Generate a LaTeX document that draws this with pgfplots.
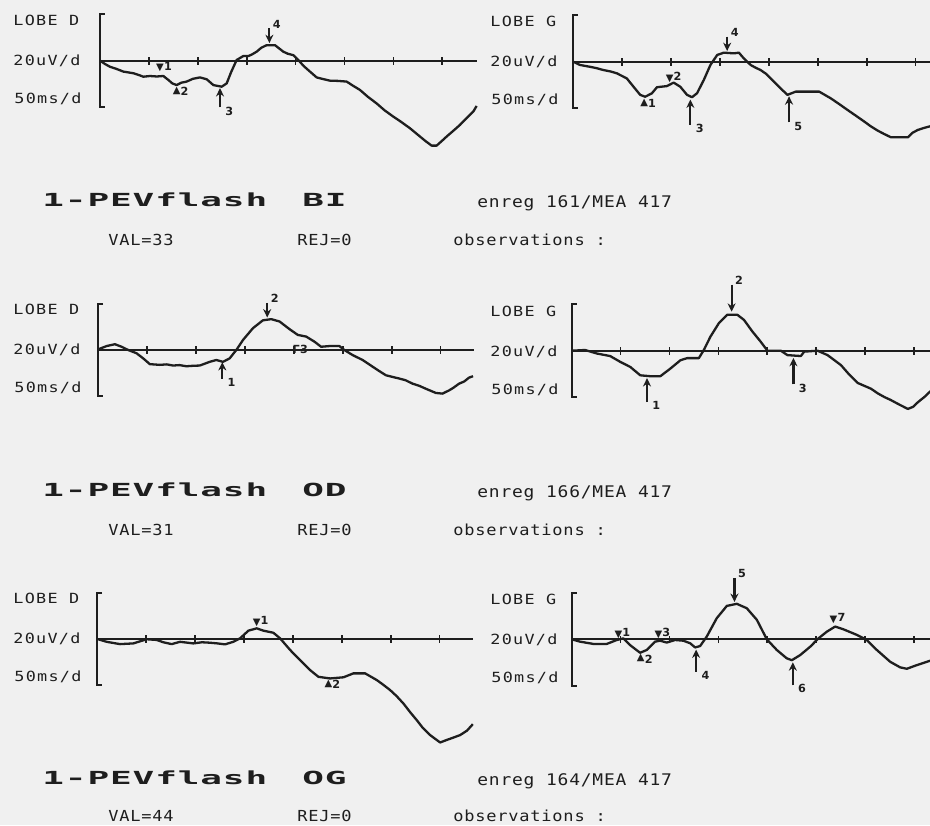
\documentclass[border=0pt]{standalone}
\usepackage{fontspec}
\usepackage{pgfplots}
\pgfplotsset{compat=1.18}
\usetikzlibrary{arrows.meta}
\setmainfont{DejaVu Sans}
\newfontfamily\plab[FakeStretch=1.2,LetterSpace=9]{DejaVu Sans Mono}
\newfontfamily\rlab[FakeStretch=1.12,LetterSpace=5]{DejaVu Sans Mono}
\newfontfamily\ttl[FakeStretch=2.0,LetterSpace=5]{DejaVu Sans Mono Bold}
\newfontfamily\dv{DejaVu Sans}
\definecolor{ink}{HTML}{1E1E1E}
\definecolor{paper}{HTML}{F0F0F0}
\tikzset{
  mk/.style={font=\dv\fontsize{5}{5}\selectfont, inner sep=0pt, text=ink},
  dig/.style={font=\dv\bfseries\fontsize{5.6}{6}\selectfont, inner sep=0pt, text=ink},
  arr/.style={draw=ink, line width=1.1pt, -{Stealth[length=4.2pt,width=4pt]}},
}
\pgfplotsset{
  ev/.style={anchor=south west, scale only axis, x=0.489pt, y=1.16pt,
    ymin=-20, ymax=20, xmin=0, clip=false,
    axis x line=middle, axis y line=none,
    axis line style={-, draw=ink, line width=0.95pt},
    xtick={50,100,...,350}, xticklabels={}, ytick=\empty,
    tick align=center, major tick length=3.8pt,
    tick style={draw=ink, line width=0.85pt}},
  wave/.style={draw=ink, line width=1.15pt, line join=round, mark=none},
}
\newcommand\brk{\draw[ink, line width=0.95pt] (axis cs:5,20) -- (axis cs:0,20) -- (axis cs:0,-20) -- (axis cs:5,-20);}
\newcommand\uarr[4]{\draw[arr] (axis cs:#1,#2) -- (axis cs:#1,#3);
  \node[dig, anchor=north west] at ([xshift=2.5pt,yshift=0.5pt]axis cs:#1,#2) {#4};}
\newcommand\darr[4]{\draw[arr] (axis cs:#1,#2) -- (axis cs:#1,#3);
  \node[dig, anchor=south west] at ([xshift=1.6pt]axis cs:#1,#2) {#4};}
\newcommand\mkd[3]{\node[mk] at (axis cs:#1,#2) {▼};
  \node[dig, anchor=west] at ([xshift=1.8pt,yshift=1pt]axis cs:#1,#2) {#3};}
\newcommand\mku[3]{\node[mk] at (axis cs:#1,#2) {▲};
  \node[dig, anchor=west] at ([xshift=1.8pt,yshift=-0.3pt]axis cs:#1,#2) {#3};}
\begin{document}
\begin{tikzpicture}
\path[use as bounding box, fill=paper] (0pt,0pt) rectangle (465pt,-412.5pt);
\clip (0pt,0pt) rectangle (465pt,-412.5pt);

% ---------- labels and text ----------
\begin{scope}[x=0.5pt,y=-0.5pt, text=ink, inner sep=0pt]
\foreach \xl/\yc/\lobe in {13/60.5/D, 490/61.5/G, 13/349.5/D, 490/351/G, 13/638.5/D, 490/639.5/G}{
  \node[anchor=base west, font=\plab\fontsize{7}{8}\selectfont] at (\xl,\yc-40+5.1) {LOBE \lobe};
  \node[anchor=base west, font=\plab\fontsize{7}{8}\selectfont] at (\xl,\yc+5.1) {20uV/d};
  \node[anchor=base west, font=\plab\fontsize{7}{8}\selectfont] at (\xl+1,\yc+38+5.1) {50ms/d};
}
\foreach \T/\S/\eye/\num/\val in {200/240/BI/161/33, 490/530/OD/166/31, 778/816/OG/164/44}{
  \node[anchor=base west, font=\ttl\fontsize{9}{10}\selectfont] at (42,\T+6.6) {1-PEVflash};
  \node[anchor=base west, font=\ttl\fontsize{9}{10}\selectfont] at (302,\T+6.6) {\eye};
  \node[anchor=base west, font=\rlab\fontsize{8}{9}\selectfont] at (477,\T+7.5) {enreg \num/MEA 417};
  \node[anchor=base west, font=\rlab\fontsize{7.6}{9}\selectfont] at (108,\S+5.5) {VAL=\val};
  \node[anchor=base west, font=\rlab\fontsize{7.6}{9}\selectfont] at (297,\S+5.5) {REJ=0};
  \node[anchor=base west, font=\rlab\fontsize{7.6}{9}\selectfont] at (453,\S+5.5) {observations :};
}
\end{scope}

% ---------- panel 1 : top left ----------
\begin{axis}[ev, at={(50pt,-53.55pt)}, xmax=385]
\brk
\addplot[wave] coordinates {(0,0) (5,-1.4) (10.2,-2.6) (16,-3.4) (23.9,-4.7) (34.1,-5.4) (40,-6.2) (44.3,-6.9) (51.1,-6.6) (58,-6.8) (64.8,-6.6) (69.9,-8.3) (74,-9.8) (78.4,-10.5) (83,-9.5) (88.6,-9.0) (95,-7.8) (102.2,-7.2) (109.1,-8.0) (115.9,-10.5) (124.4,-11.2) (129.5,-9.8) (134,-5.0) (139.7,0.3) (146.5,2.0) (151.6,2.0) (155,2.6) (160.2,3.9) (165,5.6) (170.4,6.7) (178.9,6.7) (187.4,3.9) (192,3.0) (197.6,2.4) (202.8,0.3) (208,-2.2) (214.7,-4.7) (221.5,-7.2) (228,-7.9) (235.1,-8.6) (243,-8.7) (252.2,-9.0) (258,-10.6) (265.8,-12.6) (274,-15.6) (282.8,-18.4) (291,-21.4) (299.9,-24.1) (308,-26.4) (316.9,-29.1) (327.2,-32.7) (333,-34.7) (339.1,-36.6) (344.2,-36.6) (349,-34.8) (354.4,-32.7) (361,-30.3) (368.0,-27.7) (375,-24.7) (381.7,-21.9) (385.1,-19.5)};
\mkd{61.4}{-3.3}{1}
\mku{78.4}{-12.9}{2}
\uarr{122.7}{-20.1}{-11.8}{3}
\darr{173.2}{13.9}{7.6}{4}
\end{axis}

% ---------- panel 2 : top right ----------
\begin{axis}[ev, at={(286.65pt,-54.05pt)}, xmax=366]
\brk
\addplot[wave] coordinates {(0,0) (6.8,-1.4) (17.1,-2.2) (24,-2.8) (30.8,-3.6) (38,-4.2) (44.5,-5.0) (54.7,-7.2) (61.6,-10.8) (68.4,-14.3) (73.5,-15.1) (80.4,-13.6) (85.5,-11.0) (95.8,-10.5) (102.6,-9.0) (109.4,-10.8) (116.3,-14.3) (121.4,-15.3) (126.5,-13.6) (133.4,-7.9) (140.2,-1.4) (147.1,2.9) (153.9,3.9) (164.2,3.6) (169.3,3.9) (174.4,1.4) (181.3,-1.4) (186,-2.5) (191.5,-3.6) (197,-5.2) (201.8,-7.2) (207,-9.4) (212.0,-11.5) (218.9,-14.3) (227.4,-12.9) (251.4,-12.9) (263.3,-15.8) (272,-18.3) (280.4,-20.8) (289,-23.3) (297.5,-25.8) (304,-27.8) (311.2,-29.7) (318,-31.2) (324.9,-32.6) (342.0,-32.6) (347,-30.6) (352.3,-29.4) (359,-28.5) (366,-27.7)};
\mku{72.5}{-17.6}{1}
\mkd{98.5}{-7.2}{2}
\uarr{119.7}{-27.2}{-16.3}{3}
\darr{157.3}{10.8}{4.6}{4}
\uarr{220.6}{-26.2}{-14.9}{5}
\end{axis}

% ---------- panel 3 : middle left ----------
\begin{axis}[ev, at={(49.15pt,-198.2pt)}, xmax=384]
\brk
\addplot[wave] coordinates {(0,0.3) (8.5,1.7) (17.0,2.5) (23.8,1.4) (30.6,0) (39.1,-1.4) (45.9,-3.6) (52.7,-6.1) (62.9,-6.4) (70,-6.2) (76.5,-6.7) (83,-6.5) (90.1,-7.0) (97,-6.8) (103.7,-6.7) (113.9,-5.1) (120.7,-4.3) (127.5,-5.1) (134.3,-3.6) (141.1,0) (147.9,4.3) (158.1,9.4) (168.3,12.8) (176.8,13.3) (185.3,12.3) (195.5,9.0) (204.0,6.5) (212.5,5.8) (221.0,3.6) (227.8,1.4) (236.3,1.7) (246.5,1.7) (251.6,0) (260.1,-2.2) (270.3,-4.3) (280.5,-7.2) (287,-9.0) (294.1,-10.9) (307.7,-12.3) (314,-13.0) (321.3,-14.5) (328,-15.4) (334.9,-16.7) (345.1,-18.5) (351.9,-18.8) (358.7,-17.4) (363,-16.3) (368.9,-14.5) (374,-13.6) (379.1,-11.9) (383.2,-11.3)};
\uarr{126.8}{-12.3}{-5.2}{1}
\darr{172.7}{20.3}{14.0}{2}
\node[dig] at (axis cs:202.3,0.4) {Г};
\node[dig, anchor=west] at ([xshift=1.8pt]axis cs:202.3,0.2) {3};
\end{axis}

% ---------- panel 4 : middle right ----------
\begin{axis}[ev, at={(285.85pt,-198.55pt)}, xmax=367]
\brk
\addplot[wave] coordinates {(0,0) (13.7,0.3) (25.6,-1.2) (39.3,-2.3) (49.6,-4.8) (59.9,-7.0) (70.1,-10.6) (80.4,-11.0) (90.6,-11.0) (100.9,-7.7) (111.2,-4.1) (118.0,-3.2) (130.0,-3.2) (135.1,0.3) (141.9,6.1) (150.5,11.9) (159.0,15.5) (169.3,15.5) (176.1,13.3) (184.7,8.3) (193.2,3.9) (200.1,0) (213.8,0) (220.6,-1.9) (234.3,-2.3) (237.7,-0.4) (251.4,0) (261.6,-1.9) (275.3,-6.2) (284,-10.4) (292.4,-13.9) (306.1,-16.4) (313,-18.4) (319.8,-20.0) (326,-21.2) (333.5,-22.9) (343.7,-25.1) (349,-24.2) (354.0,-22.2) (361,-19.8) (367.7,-17.1)};
\uarr{77}{-22.2}{-11.8}{1}
\darr{163.5}{28.5}{16.8}{2}
\uarr{226.7}{-14.5}{-3.1}{3}
\end{axis}

% ---------- panel 5 : bottom left ----------
\begin{axis}[ev, at={(48.65pt,-342.7pt)}, xmax=384]
\brk
\addplot[wave] coordinates {(0,0) (9.5,-1.2) (23.2,-2.2) (36.8,-1.9) (50.5,-0.1) (60.7,-0.4) (67.5,-1.4) (76.0,-2.2) (84.6,-1.2) (98.2,-1.9) (107,-1.4) (115.3,-1.6) (123,-1.9) (130.6,-2.3) (139.1,-1.2) (146.0,0.3) (154.5,3.6) (163.0,4.6) (169.8,3.6) (180.0,2.7) (186.9,0.3) (197.1,-4.7) (207.3,-9.1) (217.6,-13.4) (226.1,-16.3) (238.0,-17.0) (251.7,-16.5) (261.9,-14.8) (273.8,-14.8) (285.8,-17.7) (292,-19.6) (299.4,-22.0) (306,-24.6) (313.0,-27.8) (320,-31.6) (326.7,-35.0) (333,-38.4) (340.3,-41.4) (350.5,-44.6) (357.4,-43.5) (364,-42.5) (371.0,-41.4) (378,-39.5) (384.0,-36.7)};
\mkd{163}{7.1}{1}
\mku{236.3}{-19.4}{2}
\end{axis}

% ---------- panel 6 : bottom right ----------
\begin{axis}[ev, at={(285.85pt,-342.85pt)}, xmax=367]
\brk
\addplot[wave] coordinates {(0,0) (8.5,-1.0) (22.2,-2.0) (35.8,-2.0) (46.0,-0.3) (52.9,0.4) (59.7,-2.5) (69.9,-5.8) (76.7,-4.6) (85.3,-1.0) (90.4,-0.6) (97.2,-1.4) (105.7,-0.3) (114.2,-0.6) (121.1,-1.7) (126.2,-3.5) (131.3,-2.9) (138.1,1.2) (148.3,9.1) (158.6,14.4) (168.8,15.3) (179.0,13.4) (189.3,8.4) (199.5,0) (209.7,-4.6) (219.9,-8.2) (225.1,-9.0) (233.6,-6.8) (243.8,-3.2) (252.3,0.4) (260.9,3.3) (269.4,5.5) (277.9,4.3) (291.6,1.9) (301.8,-0.3) (312.0,-4.6) (325.7,-9.7) (335.9,-12.1) (342.7,-12.7) (353.0,-11.1) (366.6,-9.2)};
\mkd{47.7}{1.9}{1}
\mku{70.6}{-8.2}{2}
\mkd{88.7}{1.9}{3}
\uarr{127.2}{-14.0}{-4.4}{4}
\darr{166.4}{26.4}{16.1}{5}
\uarr{226.1}{-19.8}{-9.9}{6}
\mkd{267.7}{8.4}{7}
\end{axis}
\end{tikzpicture}
\end{document}
